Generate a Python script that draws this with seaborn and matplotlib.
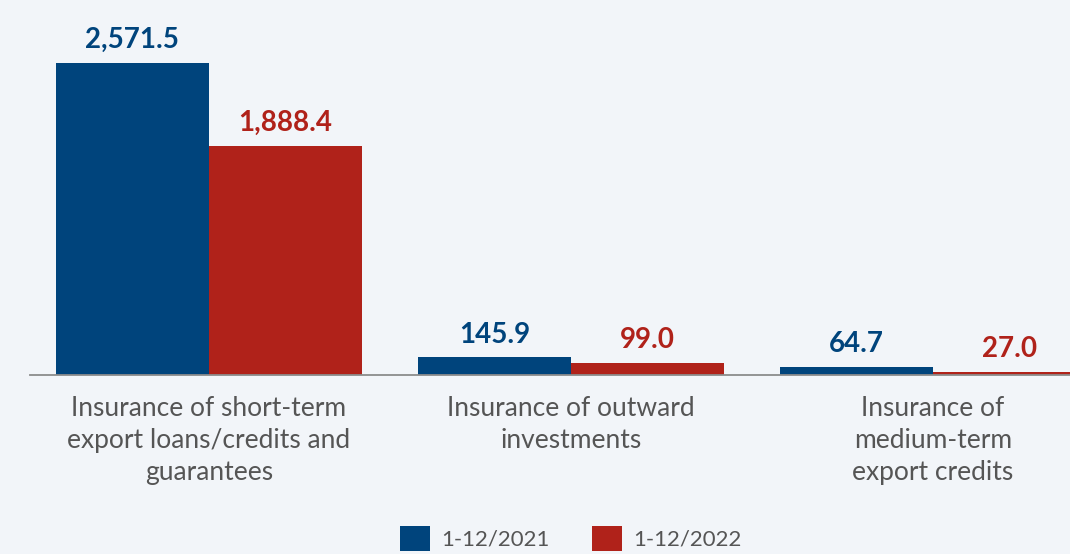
import matplotlib
matplotlib.use("Agg")
import matplotlib.pyplot as plt
import seaborn as sns
import pandas as pd
from matplotlib.patches import Patch

# Insured volume by product line, two periods
categories = [
    "Insurance of short-term\nexport loans/credits and\nguarantees",
    "Insurance of outward\ninvestments",
    "Insurance of\nmedium-term\nexport credits",
]
periods = ["1-12/2021", "1-12/2022"]
values_2021 = [2571.5, 145.9, 64.7]
values_2022 = [1888.4, 99.0, 27.0]

BLUE = "#00447c"
RED = "#b0221a"
BG = "#f2f5f9"
TEXT = "#555555"

df = pd.DataFrame({
    "category": categories * 2,
    "period": [periods[0]] * 3 + [periods[1]] * 3,
    "value": values_2021 + values_2022,
})

sns.set_theme(style="white")
plt.rcParams["font.family"] = ["Lato", "DejaVu Sans"]

fig = plt.figure(figsize=(10.7, 5.54), dpi=100, facecolor=BG)
ax = fig.add_axes([30 / 1070, 179 / 554, 1084 / 1070, 375 / 554])
ax.set_facecolor(BG)

sns.barplot(data=df, x="category", y="value", hue="period",
            palette=[BLUE, RED], width=0.845, saturation=1, linewidth=0,
            order=categories, hue_order=periods, ax=ax, legend=False)

ax.set_xlim(-0.494, 2.5)
ax.set_ylim(0, 3091)

for container, color in zip(ax.containers, [BLUE, RED]):
    ax.bar_label(container, labels=[f"{v:,.1f}" for v in container.datavalues],
                 padding=7, color=color, fontsize=20, fontweight="bold")

for side in ["top", "left", "right"]:
    ax.spines[side].set_visible(False)
ax.spines["bottom"].set_color("#8c8c8c")
ax.spines["bottom"].set_linewidth(1.3)

ax.set_yticks([])
ax.set_xlabel("")
ax.set_ylabel("")
ax.tick_params(axis="x", length=0, pad=15)
for lbl in ax.get_xticklabels():
    lbl.set_fontsize(19)
    lbl.set_fontweight("normal")
    lbl.set_color(TEXT)
    lbl.set_linespacing(1.35)
    lbl.set_multialignment("center")

handles = [Patch(facecolor=BLUE, edgecolor="none"), Patch(facecolor=RED, edgecolor="none")]
fig.legend(handles, periods, loc="upper left", bbox_to_anchor=(400 / 1070, 28 / 554),
           ncol=2, frameon=False, handlelength=1.35, handleheight=1.35,
           handletextpad=0.5, columnspacing=1.9, borderpad=0, borderaxespad=0,
           labelcolor=TEXT, prop={"weight": "normal", "size": 16})

fig.savefig("out.png", dpi=100, facecolor=BG)
